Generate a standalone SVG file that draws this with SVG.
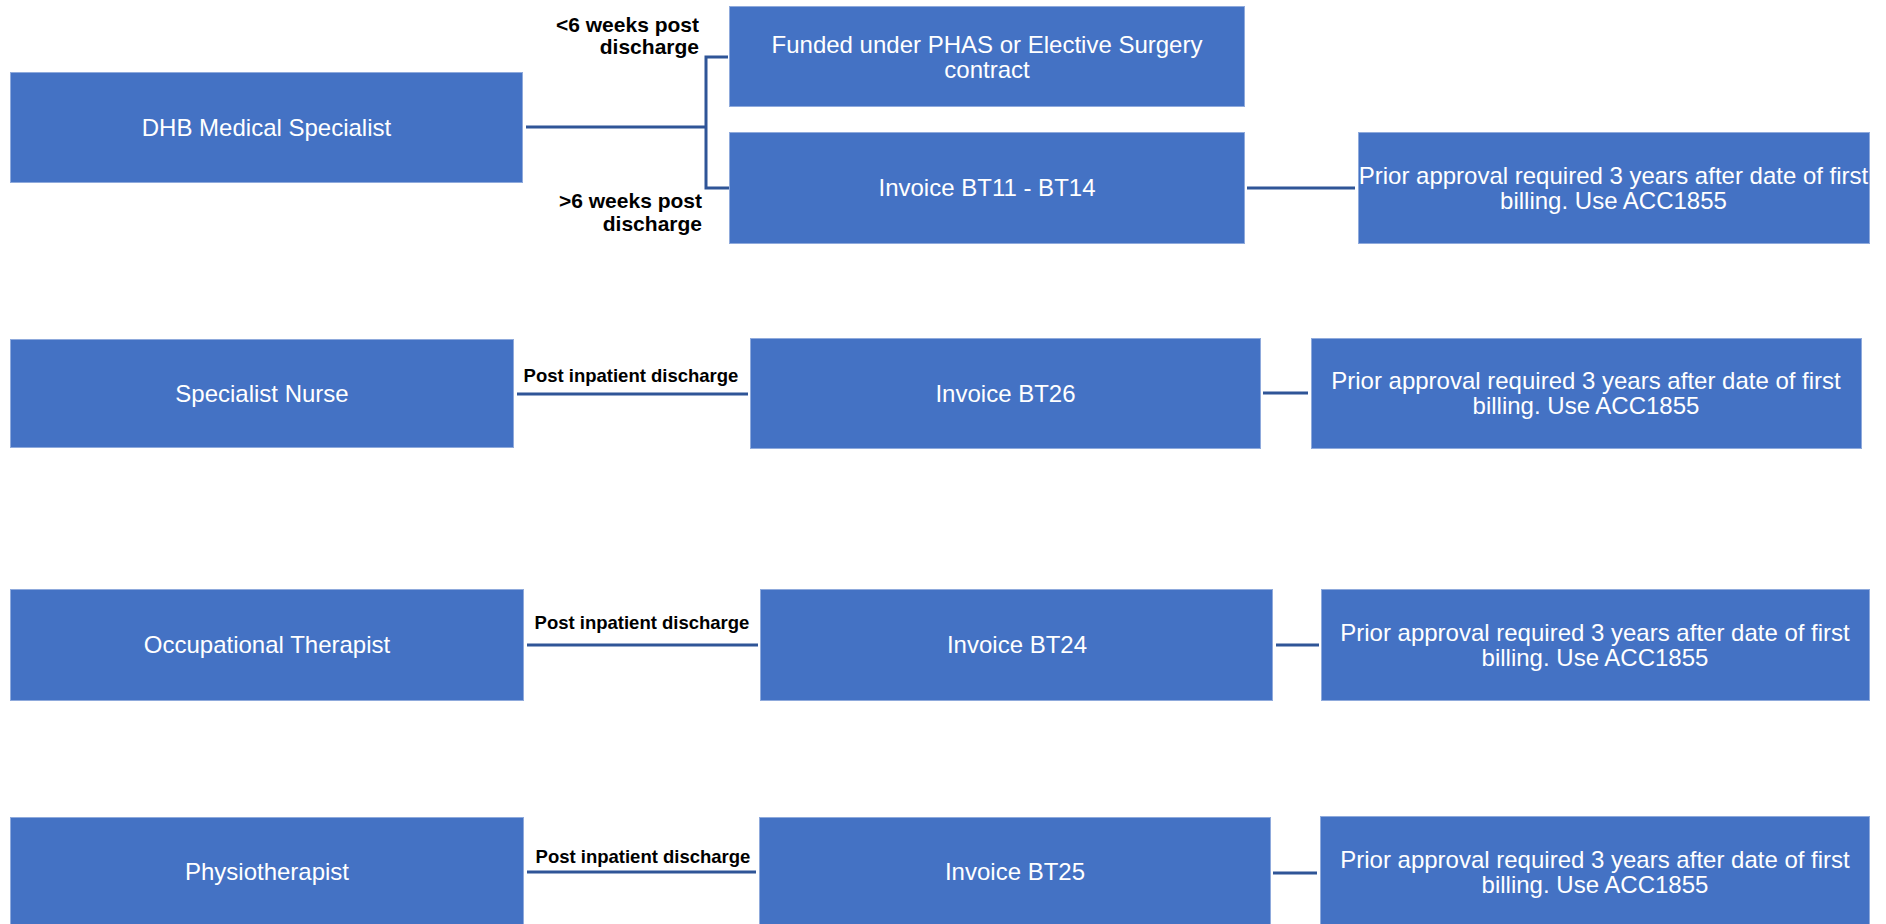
<svg xmlns="http://www.w3.org/2000/svg" width="1886" height="924" viewBox="0 0 1886 924">
<style>
.box{fill:#4472C4;stroke:#8FAADC;stroke-width:1}
.t{font-family:"Liberation Sans",Arial,sans-serif;font-size:24px;fill:#FFFFFF;text-anchor:middle}
.lbl{font-family:"Liberation Sans",Arial,sans-serif;font-weight:bold;fill:#000000}
.c{fill:none;stroke:#2F5597;stroke-width:3}
</style>
<rect width="1886" height="924" fill="#FFFFFF"/>
<g id="connectors">
<path class="c" d="M526,127 H706 M728,57 H706 V188 H729"/>
<path class="c" d="M1247,188 H1355"/>
<path class="c" d="M517,394 H748"/>
<path class="c" d="M1263,393 H1308"/>
<path class="c" d="M527,645 H758"/>
<path class="c" d="M1276,645 H1319"/>
<path class="c" d="M527,872 H756"/>
<path class="c" d="M1273,873 H1317"/>
</g>
<g id="labels">
<text class="lbl" font-size="21" text-anchor="end" x="699" y="32">&lt;6 weeks post</text>
<text class="lbl" font-size="21" text-anchor="end" x="699" y="54">discharge</text>
<text class="lbl" font-size="21" text-anchor="end" x="702" y="208">&gt;6 weeks post</text>
<text class="lbl" font-size="21" text-anchor="end" x="702" y="231">discharge</text>
<text class="lbl" font-size="18.5" text-anchor="middle" x="631" y="382">Post inpatient discharge</text>
<text class="lbl" font-size="18.5" text-anchor="middle" x="642" y="629">Post inpatient discharge</text>
<text class="lbl" font-size="18.5" text-anchor="middle" x="643" y="863">Post inpatient discharge</text>
</g>
<g id="dhb">
<rect class="box" x="10.5" y="72.5" width="512" height="110"/>
<text class="t" x="266.5" y="136">DHB Medical Specialist</text>
</g>
<g id="funded">
<rect class="box" x="729.5" y="6.5" width="515" height="100"/>
<text class="t" x="987" y="53">Funded under PHAS or Elective Surgery</text>
<text class="t" x="987" y="78">contract</text>
</g>
<g id="bt11">
<rect class="box" x="729.5" y="132.5" width="515" height="111"/>
<text class="t" x="987" y="196">Invoice BT11 - BT14</text>
</g>
<g id="prior1">
<rect class="box" x="1358.5" y="132.5" width="511" height="111"/>
<text class="t" x="1613.5" y="184">Prior approval required 3 years after date of first</text>
<text class="t" x="1613.5" y="209">billing. Use ACC1855</text>
</g>
<g id="nurse">
<rect class="box" x="10.5" y="339.5" width="503" height="108"/>
<text class="t" x="262" y="402">Specialist Nurse</text>
</g>
<g id="bt26">
<rect class="box" x="750.5" y="338.5" width="510" height="110"/>
<text class="t" x="1005.5" y="402">Invoice BT26</text>
</g>
<g id="prior2">
<rect class="box" x="1311.5" y="338.5" width="550" height="110"/>
<text class="t" x="1586" y="389">Prior approval required 3 years after date of first</text>
<text class="t" x="1586" y="414">billing. Use ACC1855</text>
</g>
<g id="ot">
<rect class="box" x="10.5" y="589.5" width="513" height="111"/>
<text class="t" x="267" y="653">Occupational Therapist</text>
</g>
<g id="bt24">
<rect class="box" x="760.5" y="589.5" width="512" height="111"/>
<text class="t" x="1017" y="653">Invoice BT24</text>
</g>
<g id="prior3">
<rect class="box" x="1321.5" y="589.5" width="548" height="111"/>
<text class="t" x="1595" y="641">Prior approval required 3 years after date of first</text>
<text class="t" x="1595" y="666">billing. Use ACC1855</text>
</g>
<g id="physio">
<rect class="box" x="10.5" y="817.5" width="513" height="112"/>
<text class="t" x="267" y="880">Physiotherapist</text>
</g>
<g id="bt25">
<rect class="box" x="759.5" y="817.5" width="511" height="112"/>
<text class="t" x="1015" y="880">Invoice BT25</text>
</g>
<g id="prior4">
<rect class="box" x="1320.5" y="816.5" width="549" height="113"/>
<text class="t" x="1595" y="868">Prior approval required 3 years after date of first</text>
<text class="t" x="1595" y="893">billing. Use ACC1855</text>
</g>
</svg>
